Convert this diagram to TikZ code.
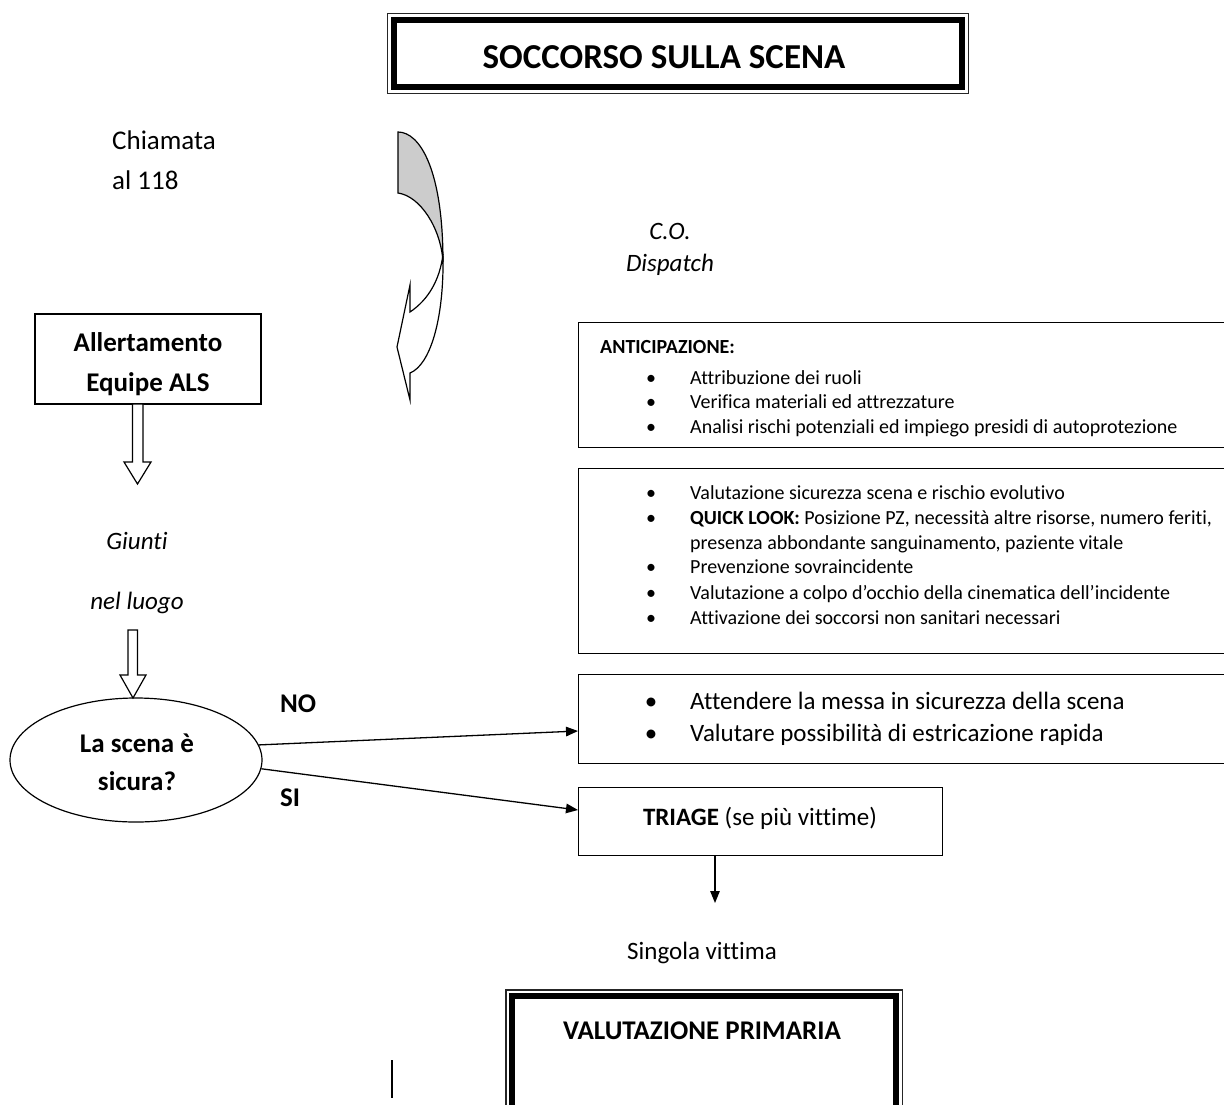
\documentclass[tikz,border=0pt]{standalone}
\usepackage{fontspec}
\setmainfont[Ligatures=NoCommon]{Carlito}
\usetikzlibrary{arrows.meta,shapes.geometric}
\tikzset{
  fs/.style={font=\fontsize{#1}{#1}\selectfont},
  txt/.style={inner sep=0pt, anchor=base},
  ltxt/.style={inner sep=0pt, anchor=base west},
  boxline/.style={draw, line width=1.3pt},
  arr/.style={line width=1.3pt, -{Triangle[length=12pt,width=9.5pt]}},
  hollow/.style={draw, line width=1.2pt, fill=white, line join=miter},
}
\begin{document}
\begin{tikzpicture}[x=1pt,y=-1pt]
\useasboundingbox (0,0) rectangle (1224,1104);
\clip (0,0) rectangle (1224,1104);

% ---- title
\node[inner sep=0pt, minimum width=580pt, minimum height=79pt] (title) at (678,53.5) {};
\draw[line width=1.3pt, black!85] (title.north west) rectangle (title.south east);
\draw[line width=6pt] ([shift={(6,6)}]title.north west) rectangle ([shift={(-6,-6)}]title.south east);
\node[txt, fs=35] (titletext) at (664,68) {\textbf{SOCCORSO SULLA SCENA}};

% ---- left column texts
\node[ltxt, fs=27] (chiam1) at (112,149) {Chiamata};
\node[ltxt, fs=27] (chiam2) at (112,189) {al 118};
\node[txt, fs=25] (co1) at (670,239) {\itshape C.O.};
\node[txt, fs=25] (co2) at (670,271) {\itshape Dispatch};

% ---- curved arrow
\filldraw[fill=white, line width=1.2pt, line join=miter]
  (443,256) .. controls (444,320) and (430,365) .. (410,373)
  -- (410,400) -- (397,347) -- (410,285) -- (410,312)
  .. controls (428,300) and (440,280) .. (443,254);
\filldraw[fill=black!20, line width=1.2pt]
  (398,132) .. controls (420,132) and (443,170) .. (443,262)
  .. controls (441,228) and (420,196) .. (398,193) -- cycle;

% ---- Allertamento
\node[boxline, minimum width=226pt, minimum height=90pt, inner sep=0pt] (allert) at (148,359) {};
\node[txt, fs=27] (al1) at (148,351) {\textbf{Allertamento}};
\node[txt, fs=27] (al2) at (148,391) {\textbf{Equipe ALS}};

% hollow arrow 1
\filldraw[hollow] (132.5,404) -- (143,404) -- (143,462) -- (151,462) -- (137.5,484) -- (124,462) -- (132.5,462) -- cycle;

\node[txt, fs=25] (giu1) at (137,549) {\itshape Giunti};
\node[txt, fs=25] (giu2) at (137,609) {\itshape nel luogo};

% hollow arrow 2
\filldraw[hollow] (128,630) -- (137.5,630) -- (137.5,675) -- (146,675) -- (133,698) -- (120,675) -- (128,675) -- cycle;

% ---- decision ellipse
\node[ellipse, draw, line width=1.2pt, minimum width=252pt, minimum height=124pt, inner sep=0pt] (ell) at (136,760) {};
\node[txt, fs=27] (q1) at (137,752) {\textbf{La scena è}};
\node[txt, fs=27] (q2) at (137,790) {\textbf{sicura?}};
\node[ltxt, fs=27] (no) at (280,712) {\textbf{NO}};
\node[ltxt, fs=27] (si) at (280,806) {\textbf{SI}};

% ---- box 1 : anticipazione
\node[boxline, minimum width=662pt, minimum height=125pt, inner sep=0pt, anchor=north west] (b1) at (578,322) {};
\node[ltxt, fs=20] (b1h) at (600,353) {\textbf{ANTICIPAZIONE:}};
\foreach \y/\t [count=\i] in {384/Attribuzione dei ruoli, 408/Verifica materiali ed attrezzature, 433/Analisi rischi potenziali ed impiego presidi di autoprotezione}{
  \node[txt, fs=20] (b1d\i) at (651,\y) {•};
  \node[ltxt, fs=20] (b1t\i) at (690,\y) {\t};
}

% ---- box 2
\node[boxline, minimum width=662pt, minimum height=185pt, inner sep=0pt, anchor=north west] (b2) at (578,468) {};
\node[txt, fs=20] (b2d1) at (651,499) {•};
\node[ltxt, fs=20] (b2t1) at (690,499) {Valutazione sicurezza scena e rischio evolutivo};
\node[txt, fs=20] (b2d2) at (651,524) {•};
\node[ltxt, fs=20] (b2t2) at (690,524) {\textbf{QUICK LOOK:} Posizione PZ, necessità altre risorse, numero feriti,};
\node[ltxt, fs=20] (b2t2b) at (690,549) {presenza abbondante sanguinamento, paziente vitale};
\node[txt, fs=20] (b2d3) at (651,573) {•};
\node[ltxt, fs=20] (b2t3) at (690,573) {Prevenzione sovraincidente};
\node[txt, fs=20] (b2d4) at (651,599) {•};
\node[ltxt, fs=20] (b2t4) at (690,599) {Valutazione a colpo d’occhio della cinematica dell’incidente};
\node[txt, fs=20] (b2d5) at (651,624) {•};
\node[ltxt, fs=20] (b2t5) at (690,624) {Attivazione dei soccorsi non sanitari necessari};

% ---- box 3
\node[boxline, minimum width=662pt, minimum height=89pt, inner sep=0pt, anchor=north west] (b3) at (578,674) {};
\node[txt, fs=25] (b3d1) at (651,709) {•};
\node[ltxt, fs=25] (b3t1) at (690,709) {Attendere la messa in sicurezza della scena};
\node[txt, fs=25] (b3d2) at (651,741) {•};
\node[ltxt, fs=25] (b3t2) at (690,741) {Valutare possibilità di estricazione rapida};

% ---- triage
\node[boxline, minimum width=364pt, minimum height=68pt, inner sep=0pt, anchor=north west] (tri) at (578,787) {};
\node[txt, fs=25] (tritext) at (760,825) {\textbf{TRIAGE} (se più vittime)};

% ---- connectors
\coordinate (noend) at (578,731);
\coordinate (siend) at (578,810);
\coordinate (tdown) at (715,903);
\draw[arr] (ell.7) -- (noend);
\draw[arr] (ell.-4) -- (siend);
\draw[arr] (tri.south -| tdown) -- (tdown);

\node[txt, fs=25] (single) at (702,959) {Singola vittima};

% ---- valutazione primaria
\node[inner sep=0pt, minimum width=396pt, minimum height=130pt, anchor=north west] (vp) at (506,990) {};
\draw[line width=1.3pt, black!85] (vp.north west) rectangle (vp.south east);
\draw[line width=6pt] ([shift={(6,6)}]vp.north west) rectangle ([shift={(-6,-6)}]vp.south east);
\node[txt, fs=27] (vptext) at (702,1039) {\textbf{VALUTAZIONE PRIMARIA}};

% cursor mark
\draw[line width=1.2pt] (392,1060) -- (392,1098);
\end{tikzpicture}
\end{document}
